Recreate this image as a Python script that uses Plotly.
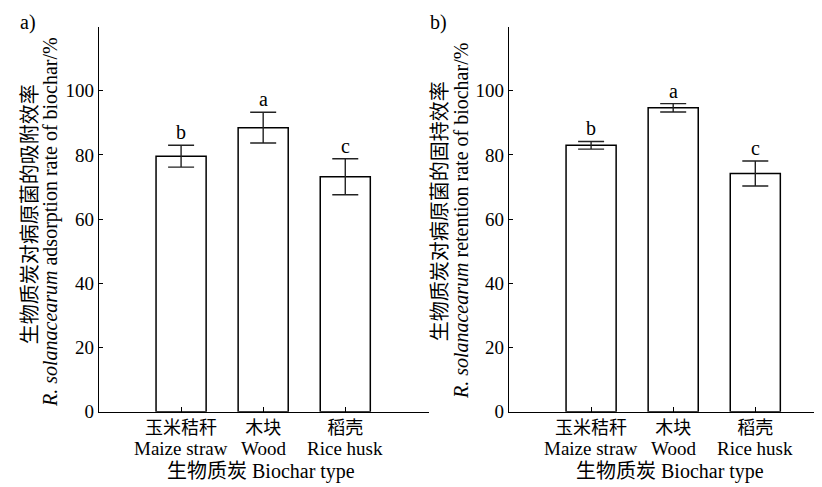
import plotly.graph_objects as go

categories_cn = ["玉米秸秆", "木块", "稻壳"]
categories_en = ["Maize straw", "Wood", "Rice husk"]
adsorption = [79.6, 88.5, 73.2]
adsorption_err = [3.4, 4.8, 5.6]
adsorption_sig = ["b", "a", "c"]
retention = [83.0, 94.7, 74.2]
retention_err = [1.2, 1.3, 3.9]
retention_sig = ["b", "a", "c"]
yticks = [0, 20, 40, 60, 80, 100]

W, H = 822, 487
FONT = "Liberation Serif, Times New Roman, Noto Sans CJK SC, serif"

def px(x):
    return x / W

def py(y):
    return 1 - y / H

fig = go.Figure()
xpos = [0, 1, 2]

panels = [
    dict(vals=adsorption, err=adsorption_err, sig=adsorption_sig, xa="x", ya="y",
         dom=[px(91), px(421)], rng=[-1.0, 3.02],
         t1="生物质炭对病原菌的吸附效率",
         t2="<i>R. solanacearum</i> adsorption rate of biochar/%",
         t1x=22, t1y=211, t2x=42, t2y=219, xt=253, lab="a)", labx=20),
    dict(vals=retention, err=retention_err, sig=retention_sig, xa="x2", ya="y2",
         dom=[px(501), 1.0], rng=[-1.0, 2.91],
         t1="生物质炭对病原菌的固持效率",
         t2="<i>R. solanacearum</i> retention rate of biochar/%",
         t1x=432, t1y=208, t2x=453, t2y=218, xt=662, lab="b)", labx=430),
]

annotations = []
for i, p in enumerate(panels):
    fig.add_trace(go.Bar(
        x=xpos, y=p["vals"], xaxis=p["xa"], yaxis=p["ya"], width=0.61,
        marker=dict(color="white", line=dict(color="black", width=1.5)),
        error_y=dict(type="data", array=p["err"], visible=True,
                     color="#222222", thickness=1.4, width=13),
        showlegend=False, hoverinfo="skip"))
    for xi, v, e, s in zip(xpos, p["vals"], p["err"], p["sig"]):
        annotations.append(dict(x=xi, y=v + e, xref=p["xa"], yref=p["ya"], text=s,
                                showarrow=False, yanchor="bottom", yshift=0,
                                font=dict(size=20, family=FONT, color="black")))
    for xi, en in zip(xpos, categories_en):
        annotations.append(dict(x=xi, y=py(451), xref=p["xa"], yref="paper", text=en,
                                showarrow=False, yanchor="middle",
                                font=dict(size=19, family=FONT, color="black")))
    annotations.append(dict(x=px(p["xt"]), y=py(474), xref="paper", yref="paper",
                            text="生物质炭 Biochar type", showarrow=False,
                            yanchor="middle", xanchor="center",
                            font=dict(size=20, family=FONT, color="black")))
    annotations.append(dict(x=px(p["t1x"]), y=py(p["t1y"]), xref="paper", yref="paper",
                            text=p["t1"], showarrow=False, textangle=-90,
                            xanchor="center", yanchor="middle",
                            font=dict(size=20, family=FONT, color="black")))
    annotations.append(dict(x=px(p["t2x"]), y=py(p["t2y"]), xref="paper", yref="paper",
                            text=p["t2"], showarrow=False, textangle=-90,
                            xanchor="center", yanchor="middle",
                            font=dict(size=20, family=FONT, color="black")))
    annotations.append(dict(x=px(p["labx"]), y=py(15), xref="paper", yref="paper",
                            text=p["lab"], showarrow=False,
                            xanchor="center", yanchor="middle",
                            font=dict(size=20, family=FONT, color="black")))

axis_common = dict(showgrid=False, zeroline=False, showline=True, linecolor="black",
                   linewidth=1.3, ticks="inside", tickcolor="black", tickwidth=1.2)

ydom = [py(413), py(19)]
xtf = dict(size=18, family=FONT, color="black")
ytf = dict(size=19, family=FONT, color="black")
fig.update_layout(
    width=W, height=H, margin=dict(l=0, r=0, t=0, b=0),
    paper_bgcolor="white", plot_bgcolor="white",
    font=dict(family=FONT, size=19, color="black"),
    xaxis=dict(domain=panels[0]["dom"], range=panels[0]["rng"], tickvals=xpos,
               ticktext=categories_cn, ticklen=5, anchor="y",
               tickfont=xtf, **axis_common),
    yaxis=dict(domain=ydom, range=[0, 120], tickvals=yticks, ticklen=4, anchor="x",
               tickfont=ytf, **axis_common),
    xaxis2=dict(domain=panels[1]["dom"], range=panels[1]["rng"], tickvals=xpos,
                ticktext=categories_cn, ticklen=5, anchor="y2",
                tickfont=xtf, **axis_common),
    yaxis2=dict(domain=ydom, range=[0, 120], tickvals=yticks, ticklen=4, anchor="x2",
                tickfont=ytf, **axis_common),
    annotations=annotations,
)

fig.write_html("out.html")
